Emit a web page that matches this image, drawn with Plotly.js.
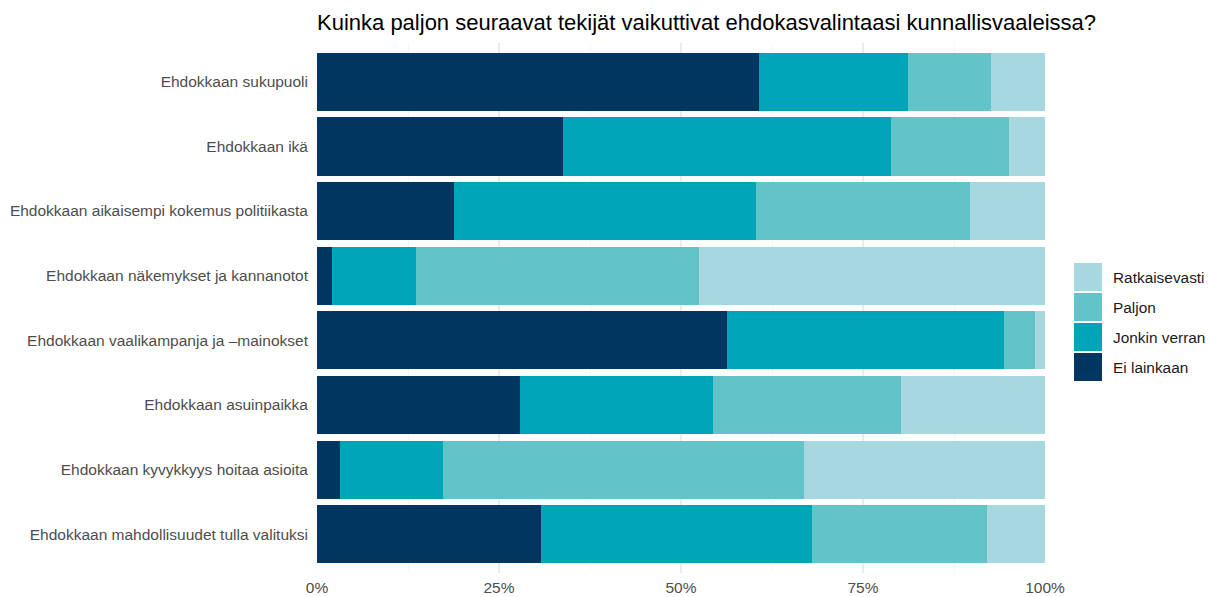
<!DOCTYPE html>
<html>
<head>
<meta charset="utf-8">
<script src="https://cdn.plot.ly/plotly-3.0.1.min.js"></script>
<style>html,body{margin:0;padding:0;background:#fff;}#chart{width:1208px;height:597px;}</style>
</head>
<body>
<div id="chart"></div>
<script>
const categories = [
  "Ehdokkaan sukupuoli",
  "Ehdokkaan ikä",
  "Ehdokkaan aikaisempi kokemus politiikasta",
  "Ehdokkaan näkemykset ja kannanotot",
  "Ehdokkaan vaalikampanja ja –mainokset",
  "Ehdokkaan asuinpaikka",
  "Ehdokkaan kyvykkyys hoitaa asioita",
  "Ehdokkaan mahdollisuudet tulla valituksi"
];
const seriesNames = ["Ei lainkaan", "Jonkin verran", "Paljon", "Ratkaisevasti"];
const eiLainkaan    = [60.7, 33.8, 18.8,  2.1, 56.3, 27.9,  3.2, 30.8];
const jonkinVerran  = [20.5, 45.0, 41.5, 11.5, 38.1, 26.5, 14.1, 37.2];
const paljon        = [11.4, 16.3, 29.4, 38.9,  4.2, 25.8, 49.6, 24.0];
const ratkaisevasti = [ 7.4,  4.9, 10.3, 47.5,  1.4, 19.8, 33.1,  8.0];
const xTickVals = [0, 0.25, 0.5, 0.75, 1];
const xTickText = ["0%", "25%", "50%", "75%", "100%"];

const colors = ["#003660", "#00a5b8", "#62c3c9", "#a7d8df"];
const seriesValues = [eiLainkaan, jonkinVerran, paljon, ratkaisevasti];

const FONT = "Liberation Sans, Arial, sans-serif";

const traces = seriesValues.map((vals, i) => ({
  type: "bar",
  orientation: "h",
  name: seriesNames[i],
  y: categories,
  x: vals.map(v => v / 100),
  width: 0.9,
  marker: {color: colors[i], line: {width: 0}},
  hoverinfo: "name+x",
  showlegend: false
}));

// plot area in pixels
const W = 1208, H = 597;
const L = 317, R = 1045, T = 43, B = 573;
const px2x = p => (p - L) / (R - L);
const px2y = p => (B - p) / (B - T);

const shapes = [];
const annotations = [];
// custom legend, top to bottom: Ratkaisevasti, Paljon, Jonkin verran, Ei lainkaan
const legendOrder = [3, 2, 1, 0];
legendOrder.forEach((si, k) => {
  const top = 263 + k * 30;
  shapes.push({
    type: "rect", xref: "paper", yref: "paper",
    x0: px2x(1074), x1: px2x(1102),
    y0: px2y(top + 28), y1: px2y(top),
    fillcolor: colors[si], line: {width: 0}
  });
  annotations.push({
    xref: "paper", yref: "paper",
    x: px2x(1111), y: px2y(top + 14),
    xanchor: "left", yanchor: "middle",
    text: seriesNames[si], showarrow: false,
    font: {family: FONT, size: 15.4, color: "#1a1a1a"}
  });
});

const layout = {
  width: W, height: H,
  margin: {l: L, r: W - R, t: T, b: H - B, pad: 0},
  paper_bgcolor: "#ffffff",
  plot_bgcolor: "#ffffff",
  barmode: "stack",
  bargap: 0.1,
  font: {family: FONT, color: "#4d4d4d", size: 15.5},
  title: {
    text: "Kuinka paljon seuraavat tekijät vaikuttivat ehdokasvalintaasi kunnallisvaaleissa?",
    x: L / W, xref: "container", xanchor: "left",
    y: 1 - 22 / H, yref: "container", yanchor: "middle",
    font: {family: FONT, size: 22, color: "#000000"}
  },
  xaxis: {
    range: [0, 1],
    tickvals: xTickVals,
    ticktext: xTickText,
    showgrid: true,
    gridcolor: "#ebebeb",
    gridwidth: 1.1,
    minor: {dtick: 0.125, tick0: 0, showgrid: true, gridcolor: "#f2f2f2", gridwidth: 0.6},
    zeroline: false,
    showline: false,
    ticks: "",
    ticklabelstandoff: 3,
    tickfont: {family: FONT, size: 15.5, color: "#4d4d4d"},
    fixedrange: true
  },
  yaxis: {
    type: "category",
    categoryorder: "array",
    categoryarray: categories,
    range: [7.6, -0.6],
    showgrid: true,
    gridcolor: "#ebebeb",
    zeroline: false,
    showline: false,
    ticks: "",
    ticklabelstandoff: 8,
    tickfont: {family: FONT, size: 15.5, color: "#4d4d4d"},
    fixedrange: true
  },
  shapes: shapes,
  annotations: annotations,
  showlegend: false
};

Plotly.newPlot("chart", traces, layout, {displayModeBar: false, staticPlot: true});
</script>
</body>
</html>
